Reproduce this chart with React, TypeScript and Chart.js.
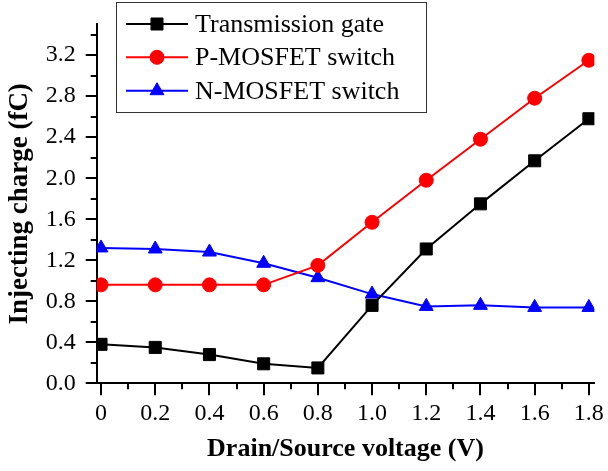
import React, { useEffect, useRef } from "react";
import { Chart, registerables } from "chart.js";
import { drawPoint } from "chart.js/helpers";

Chart.register(...registerables);

const voltages = [0, 0.2, 0.4, 0.6, 0.8, 1.0, 1.2, 1.4, 1.6, 1.8];
const transmissionGate = [0.38, 0.35, 0.28, 0.19, 0.15, 0.76, 1.31, 1.75, 2.17, 2.58];
const pMosfet = [0.96, 0.96, 0.96, 0.96, 1.15, 1.57, 1.98, 2.38, 2.78, 3.15];
const nMosfet = [1.32, 1.31, 1.28, 1.17, 1.03, 0.87, 0.75, 0.76, 0.74, 0.74];

const seriesNames = ["Transmission gate", "P-MOSFET switch", "N-MOSFET switch"];

const xTickValues = [0, 0.2, 0.4, 0.6, 0.8, 1.0, 1.2, 1.4, 1.6, 1.8];
const xTickLabels = ["0", "0.2", "0.4", "0.6", "0.8", "1.0", "1.2", "1.4", "1.6", "1.8"];
const xMinorTicks = [0.1, 0.3, 0.5, 0.7, 0.9, 1.1, 1.3, 1.5, 1.7];
const yTickValues = [0, 0.4, 0.8, 1.2, 1.6, 2.0, 2.4, 2.8, 3.2];
const yTickLabels = ["0.0", "0.4", "0.8", "1.2", "1.6", "2.0", "2.4", "2.8", "3.2"];
const yMinorTicks = [0.2, 0.6, 1.0, 1.4, 1.8, 2.2, 2.6, 3.0, 3.4];

const FONT = "'Liberation Serif', 'Times New Roman', serif";

const ticksPlugin = {
  id: "customTicks",
  afterDraw(chart: any) {
    const ctx = chart.ctx;
    const xs = chart.scales.x;
    const ys = chart.scales.y;
    const area = chart.chartArea;
    ctx.save();
    ctx.strokeStyle = "#000";
    ctx.lineWidth = 2;
    ctx.beginPath();
    xTickValues.forEach((v) => {
      const px = Math.round(xs.getPixelForValue(v));
      ctx.moveTo(px, area.bottom);
      ctx.lineTo(px, area.bottom + 12);
    });
    xMinorTicks.forEach((v) => {
      const px = Math.round(xs.getPixelForValue(v));
      ctx.moveTo(px, area.bottom);
      ctx.lineTo(px, area.bottom + 6);
    });
    yTickValues.forEach((v) => {
      const py = Math.round(ys.getPixelForValue(v));
      ctx.moveTo(area.left, py);
      ctx.lineTo(area.left - 11, py);
    });
    yMinorTicks.forEach((v) => {
      const py = Math.round(ys.getPixelForValue(v));
      ctx.moveTo(area.left, py);
      ctx.lineTo(area.left - 6, py);
    });
    ctx.stroke();
    ctx.restore();
  },
};

const legendPlugin = {
  id: "boxLegend",
  afterDraw(chart: any) {
    const ctx = chart.ctx;
    const box = { x: 116.5, y: 2.5, w: 310, h: 110 };
    const rowY = [24, 57.3, 90.7];
    ctx.save();
    ctx.fillStyle = "#fff";
    ctx.fillRect(box.x, box.y, box.w, box.h);
    ctx.strokeStyle = "#333";
    ctx.lineWidth = 1;
    ctx.strokeRect(box.x, box.y, box.w, box.h);
    chart.data.datasets.forEach((ds: any, i: number) => {
      const y = rowY[i];
      ctx.strokeStyle = ds.borderColor;
      ctx.lineWidth = ds.borderWidth;
      ctx.beginPath();
      ctx.moveTo(126, y);
      ctx.lineTo(188, y);
      ctx.stroke();
      ctx.fillStyle = ds.pointBackgroundColor;
      ctx.strokeStyle = ds.pointBorderColor;
      ctx.lineWidth = 1;
      drawPoint(ctx, { pointStyle: ds.pointStyle, radius: ds.pointRadius, borderWidth: 1, rotation: 0 }, 157, y);
      ctx.fillStyle = "#000";
      ctx.font = `26px ${FONT}`;
      ctx.textBaseline = "middle";
      ctx.textAlign = "left";
      ctx.fillText(ds.label, 195, y + 1);
    });
    ctx.restore();
  },
};

export default function App() {
  const canvasRef = useRef<HTMLCanvasElement | null>(null);

  useEffect(() => {
    document.body.style.margin = "0";
    const canvas = canvasRef.current;
    if (!canvas) return;
    const mk = (values: number[]) => voltages.map((v, i) => ({ x: v, y: values[i] }));
    const chart = new Chart(canvas, {
      type: "line",
      data: {
        datasets: [
          {
            label: seriesNames[0],
            data: mk(transmissionGate),
            borderColor: "#000000",
            backgroundColor: "#000000",
            pointBackgroundColor: "#000000",
            pointBorderColor: "#000000",
            borderWidth: 2,
            pointStyle: "rect",
            pointRadius: 8.5,
            pointBorderWidth: 1,
          },
          {
            label: seriesNames[1],
            data: mk(pMosfet),
            borderColor: "#ff0000",
            backgroundColor: "#ff0000",
            pointBackgroundColor: "#ff0000",
            pointBorderColor: "#ff0000",
            borderWidth: 2,
            pointStyle: "circle",
            pointRadius: 7,
            pointBorderWidth: 1,
          },
          {
            label: seriesNames[2],
            data: mk(nMosfet),
            borderColor: "#0000ff",
            backgroundColor: "#0000ff",
            pointBackgroundColor: "#0000ff",
            pointBorderColor: "#0000ff",
            borderWidth: 2,
            pointStyle: "triangle",
            pointRadius: 8,
            pointBorderWidth: 1,
          },
        ] as any,
      },
      options: {
        animation: false,
        responsive: false,
        devicePixelRatio: 1,
        layout: { padding: { top: 12, right: 12, left: 0, bottom: 0 } },
        plugins: { legend: { display: false }, tooltip: { enabled: false } },
        elements: { line: { tension: 0 } },
        scales: {
          x: {
            type: "linear",
            min: -0.016,
            max: 1.82,
            afterBuildTicks: (s: any) => {
              s.ticks = xTickValues.map((v) => ({ value: v }));
            },
            afterFit: (s: any) => {
              s.height = 87.7;
            },
            grid: { display: true, drawOnChartArea: false, drawTicks: true, tickLength: 12, color: "rgba(0,0,0,0)" },
            border: { display: true, color: "#000", width: 2 },
            ticks: {
              autoSkip: false,
              maxRotation: 0,
              minRotation: 0,
              padding: 4,
              color: "#000",
              font: { family: FONT, size: 24 },
              callback: (_v: any, i: number) => xTickLabels[i],
            },
            title: {
              display: true,
              text: "Drain/Source voltage (V)",
              color: "#000",
              font: { family: FONT, size: 26, weight: "bold" },
              padding: { top: 0, bottom: 6 },
            },
          },
          y: {
            type: "linear",
            min: 0,
            max: 3.5,
            afterBuildTicks: (s: any) => {
              s.ticks = yTickValues.map((v) => ({ value: v }));
            },
            afterFit: (s: any) => {
              s.width = 96.7;
            },
            grid: { display: true, drawOnChartArea: false, drawTicks: true, tickLength: 11, color: "rgba(0,0,0,0)" },
            border: { display: true, color: "#000", width: 2 },
            ticks: {
              autoSkip: false,
              padding: 10,
              color: "#000",
              font: { family: FONT, size: 24 },
              callback: (_v: any, i: number) => yTickLabels[i],
            },
            title: {
              display: true,
              text: "Injecting charge (fC)",
              color: "#000",
              font: { family: FONT, size: 27, weight: "bold" },
              padding: { top: 4, bottom: 0 },
            },
          },
        },
      } as any,
      plugins: [ticksPlugin, legendPlugin],
    });
    return () => chart.destroy();
  }, []);

  return (
    <div style={{ position: "absolute", left: 0, top: 0, width: 608, height: 471, background: "#fff" }}>
      <canvas ref={canvasRef} width={608} height={471} />
    </div>
  );
}
